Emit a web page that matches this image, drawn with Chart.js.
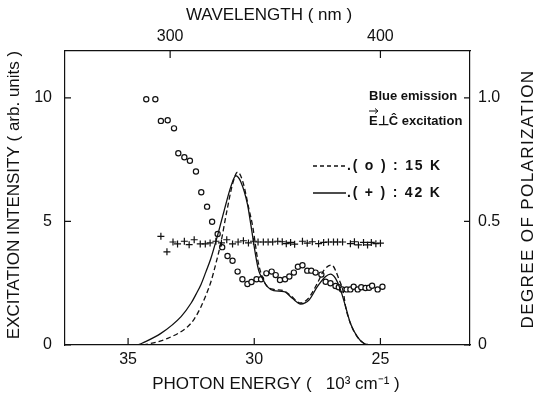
<!DOCTYPE html>
<html>
<head>
<meta charset="utf-8">
<script src="https://cdn.jsdelivr.net/npm/chart.js@4"></script>
<style>
  body { margin: 0; background: #fff; }
  #c { display: block; }
</style>
</head>
<body>
<canvas id="c" width="541" height="396"></canvas>
<script>
// photon energy in 10^3 cm^-1, intensity in arb. units
const solidE = [34.6, 34.45, 33.7, 32.9, 32.5, 32.31, 32.11, 31.92, 31.72, 31.45, 31.19, 30.93, 30.73, 30.53, 30.27, 30.14, 29.94, 29.82, 29.68, 29.48, 29.23, 28.82, 28.49, 28.16, 27.83, 27.5, 27.17, 26.98, 26.78, 26.58, 26.38, 26.19, 25.92, 25.66, 25.4];
const solidI = [0, 0.07, 0.47, 1.15, 1.7, 2.05, 2.45, 2.95, 3.5, 4.45, 5.45, 6.4, 6.85, 6.6, 5.7, 4.9, 3.6, 3.0, 2.7, 2.36, 2.2, 2.16, 1.89, 1.66, 1.82, 2.36, 2.77, 2.87, 2.7, 2.23, 1.55, 0.88, 0.34, 0.07, 0];

const dashedE = [34.41, 34.29, 33.43, 32.64, 32.38, 32.11, 31.92, 31.72, 31.52, 31.32, 31.09, 30.85, 30.66, 30.45, 30.21, 30.06, 29.86, 29.7, 29.51, 29.23, 28.83, 28.56, 28.16, 27.85, 27.5, 27.23, 26.94, 26.63, 26.46, 26.38, 26.19, 25.92, 25.66, 25.4];
const dashedI = [0, 0.02, 0.27, 0.74, 1.05, 1.55, 2.0, 2.55, 3.3, 4.15, 5.4, 6.55, 7.0, 6.6, 5.5, 4.79, 3.44, 2.8, 2.4, 2.25, 2.2, 2.0, 1.7, 1.9, 2.5, 3.04, 3.24, 2.63, 2.09, 1.55, 0.88, 0.34, 0.07, 0];

// degree of polarization, 15 K (circles)
const circleE = [34.28, 33.92, 33.70, 33.43, 33.18, 33.01, 32.77, 32.55, 32.31, 32.10, 31.87, 31.67, 31.45, 31.27, 31.06, 30.86, 30.66, 30.47, 30.27, 30.11, 29.91, 29.73, 29.52, 29.31, 29.15, 28.98, 28.78, 28.61, 28.43, 28.27, 28.09, 27.90, 27.74, 27.57, 27.34, 27.17, 26.98, 26.78, 26.65, 26.52, 26.34, 26.19, 26.06, 25.90, 25.76, 25.59, 25.45, 25.33, 25.11, 24.92];
const circleP = [0.995, 0.995, 0.907, 0.91, 0.877, 0.776, 0.76, 0.746, 0.702, 0.618, 0.56, 0.499, 0.449, 0.396, 0.36, 0.341, 0.297, 0.266, 0.247, 0.255, 0.266, 0.266, 0.29, 0.297, 0.283, 0.263, 0.266, 0.277, 0.293, 0.317, 0.323, 0.301, 0.301, 0.293, 0.285, 0.256, 0.25, 0.239, 0.234, 0.225, 0.225, 0.225, 0.236, 0.225, 0.234, 0.231, 0.232, 0.24, 0.225, 0.236];

// degree of polarization, 42 K (crosses)
const crossE = [33.70, 33.46, 33.22, 33.04, 32.77, 32.58, 32.38, 32.14, 31.94, 31.75, 31.52, 31.30, 31.09, 30.86, 30.64, 30.43, 30.23, 30.03, 29.85, 29.64, 29.45, 29.27, 29.07, 28.89, 28.73, 28.56, 28.40, 28.09, 27.90, 27.70, 27.45, 27.25, 27.06, 26.86, 26.70, 26.50, 26.19, 26.03, 25.87, 25.67, 25.51, 25.36, 25.18, 25.00];
const crossP = [0.44, 0.377, 0.417, 0.409, 0.42, 0.406, 0.426, 0.409, 0.409, 0.413, 0.42, 0.413, 0.426, 0.409, 0.417, 0.422, 0.413, 0.42, 0.417, 0.417, 0.417, 0.417, 0.42, 0.418, 0.41, 0.415, 0.408, 0.42, 0.412, 0.418, 0.41, 0.415, 0.417, 0.417, 0.417, 0.417, 0.41, 0.418, 0.405, 0.415, 0.405, 0.415, 0.41, 0.412];

const energyTicks = [35, 30, 25];
const wavelengthTicks = [300, 400];
const intensityTicks = [0, 5, 10];
const polarTicks = [0, 0.5, 1.0];

const FONT = '"Liberation Sans", Arial, sans-serif';
const pts = (xs, ys) => xs.map((x, i) => ({ x: x, y: ys[i] }));

// inward tick marks, axis titles and the in-plot legend
const decor = {
  id: 'decor',
  afterDraw(chart) {
    const ctx = chart.ctx;
    const a = chart.chartArea;
    const s = chart.scales;
    ctx.save();
    ctx.strokeStyle = '#111';
    ctx.lineWidth = 1.2;
    ctx.beginPath();
    energyTicks.forEach(v => { const px = s.x.getPixelForValue(v); ctx.moveTo(px, a.bottom); ctx.lineTo(px, a.bottom - 7); });
    wavelengthTicks.forEach(v => { const px = s.x2.getPixelForValue(10000 / v); ctx.moveTo(px, a.top); ctx.lineTo(px, a.top + 7); });
    intensityTicks.forEach(v => { const py = s.y.getPixelForValue(v); ctx.moveTo(a.left, py); ctx.lineTo(a.left + 6, py); });
    polarTicks.forEach(v => { const py = s.y2.getPixelForValue(v); ctx.moveTo(a.right, py); ctx.lineTo(a.right - 6, py); });
    ctx.stroke();

    ctx.fillStyle = '#111';
    ctx.font = '17px ' + FONT;
    ctx.textAlign = 'center';
    ctx.textBaseline = 'middle';
    ctx.fillText('WAVELENGTH ( nm )', 269, 15);
    ctx.fillText('PHOTON ENERGY (   10³ cm⁻¹ )', 276, 384);

    ctx.save();
    ctx.translate(14, 195);
    ctx.rotate(-Math.PI / 2);
    ctx.fillText('EXCITATION INTENSITY ( arb. units )', 0, 0);
    ctx.restore();
    ctx.save();
    ctx.translate(528, 199);
    ctx.rotate(-Math.PI / 2);
    ctx.letterSpacing = '1.4px';
    ctx.fillText('DEGREE OF POLARIZATION', 0, 0);
    ctx.restore();

    // legend block
    ctx.textAlign = 'left';
    ctx.font = 'bold 13px ' + FONT;
    ctx.fillText('Blue emission', 369, 96);
    ctx.fillText('E⊥Ĉ excitation', 369, 121);
    // vector arrow over E
    ctx.lineWidth = 1;
    ctx.beginPath();
    ctx.moveTo(369, 111); ctx.lineTo(378, 111);
    ctx.moveTo(375, 108.5); ctx.lineTo(378, 111); ctx.lineTo(375, 113.5);
    ctx.stroke();

    ctx.lineWidth = 1.3;
    ctx.setLineDash([4, 3]);
    ctx.beginPath(); ctx.moveTo(313, 166); ctx.lineTo(346, 166); ctx.stroke();
    ctx.setLineDash([]);
    ctx.beginPath(); ctx.moveTo(313, 193); ctx.lineTo(346, 193); ctx.stroke();
    ctx.font = 'bold 14px ' + FONT;
    ctx.letterSpacing = '1.8px';
    ctx.fillText('.( o ) : 15 K', 347, 166);
    ctx.fillText('.( + ) : 42 K', 347, 193);
    ctx.restore();
  }
};

const axisBorder = { display: true, color: '#111', width: 1.2 };
const tickFont = { family: FONT, size: 16 };

new Chart(document.getElementById('c'), {
  type: 'scatter',
  data: {
    datasets: [{
      label: '42 K',
      data: pts(solidE, solidI),
      showLine: true,
      borderColor: '#111',
      borderWidth: 1.3,
      pointRadius: 0,
      cubicInterpolationMode: 'monotone',
      yAxisID: 'y'
    }, {
      label: '15 K',
      data: pts(dashedE, dashedI),
      showLine: true,
      borderColor: '#111',
      borderWidth: 1.3,
      borderDash: [5, 3],
      pointRadius: 0,
      cubicInterpolationMode: 'monotone',
      yAxisID: 'y'
    }, {
      label: 'P 42 K',
      data: pts(crossE, crossP),
      pointStyle: 'cross',
      pointRadius: 3.5,
      borderColor: '#111',
      borderWidth: 1.2,
      yAxisID: 'y2'
    }, {
      label: 'P 15 K',
      data: pts(circleE, circleP),
      pointStyle: 'circle',
      pointRadius: 2.6,
      borderColor: '#111',
      backgroundColor: '#fff',
      borderWidth: 1.2,
      yAxisID: 'y2'
    }]
  },
  options: {
    responsive: false,
    animation: false,
    devicePixelRatio: 1,
    layout: { padding: 0 },
    plugins: { legend: { display: false }, tooltip: { enabled: false } },
    scales: {
      x: {
        type: 'linear', position: 'bottom', reverse: true, min: 21.45, max: 37.5,
        grid: { display: false, drawTicks: false },
        border: axisBorder,
        ticks: { font: tickFont, color: '#111', padding: 5, maxRotation: 0 },
        afterBuildTicks: s => { s.ticks = energyTicks.map(v => ({ value: v })); },
        afterFit: s => { s.height = 51; }
      },
      x2: {
        type: 'linear', position: 'top', reverse: true, min: 21.45, max: 37.5,
        grid: { display: false, drawTicks: false },
        border: axisBorder,
        ticks: { font: tickFont, color: '#111', padding: 5, maxRotation: 0,
          callback: v => String(Math.round(10000 / v)) },
        afterBuildTicks: s => { s.ticks = wavelengthTicks.map(v => ({ value: 10000 / v })); },
        afterFit: s => { s.height = 51; }
      },
      y: {
        type: 'linear', position: 'left', min: 0, max: 11.9,
        grid: { display: false, drawTicks: false },
        border: axisBorder,
        ticks: { font: tickFont, color: '#111', padding: 13 },
        afterBuildTicks: s => { s.ticks = intensityTicks.map(v => ({ value: v })); },
        afterFit: s => { s.width = 65; }
      },
      y2: {
        type: 'linear', position: 'right', min: 0, max: 1.19,
        grid: { display: false, drawTicks: false },
        border: axisBorder,
        ticks: { font: tickFont, color: '#111', padding: 8,
          callback: v => v === 0 ? '0' : v.toFixed(1) },
        afterBuildTicks: s => { s.ticks = polarTicks.map(v => ({ value: v })); },
        afterFit: s => { s.width = 71; }
      }
    }
  },
  plugins: [decor]
});
</script>
</body>
</html>
